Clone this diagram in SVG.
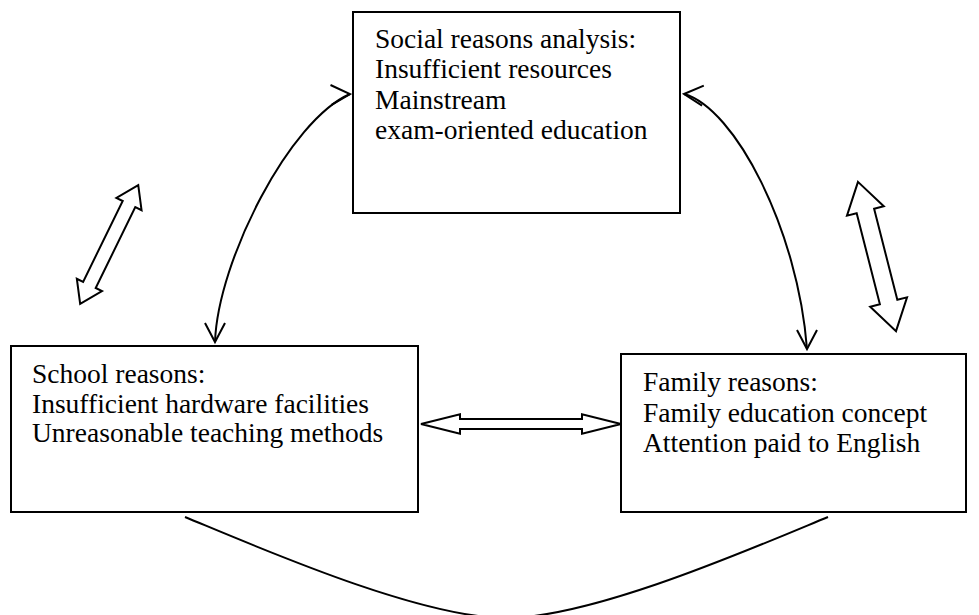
<svg xmlns="http://www.w3.org/2000/svg" xmlns:xlink="http://www.w3.org/1999/xlink" width="979" height="615" viewBox="0 0 979 615">
<style>
.box{fill:#fff;stroke:#000;stroke-width:2}
.t{font-family:"Liberation Serif","Times New Roman",serif;font-size:27.5px;fill:#000}
.line{fill:none;stroke:#000;stroke-width:2}
.head{fill:none;stroke:#000;stroke-width:2;stroke-linejoin:miter}
.harrow{fill:#fff;stroke:#000;stroke-width:2;stroke-linejoin:miter}
</style>
<defs>
<path id="vhead" class="head" d="M-19,-10 L0,0 L-19,10"/>
</defs>
<rect width="979" height="615" fill="#fff"/>
<g id="connectors">
<path class="line" d="M215,342 C218,260 290,120 350,94"/>
<use xlink:href="#vhead" transform="translate(350,94) rotate(-3)"/>
<use xlink:href="#vhead" transform="translate(215,342) rotate(90)"/>
<path class="line" d="M684,94 C735,108 798,230 807,349"/>
<use xlink:href="#vhead" transform="translate(684,94) rotate(185)"/>
<use xlink:href="#vhead" transform="translate(807,349) rotate(90)"/>
<path class="line" d="M185,517 C260,548 420,618 506,618 C593,618 753,548 828,517"/>
<polygon class="harrow" points="421,424 460,414.3 460,419 582,419 582,414.3 621,424 582,433.7 582,429 460,429 460,433.7"/>
<polygon class="harrow" transform="translate(109.2,244.5) rotate(-63.9)" points="-66,0 -45,-14 -45,-7 45,-7 45,-14 66,0 45,14 45,7 -45,7 -45,14"/>
<polygon class="harrow" transform="translate(877,256.5) rotate(75.7)" points="-77,0 -47,-19 -47,-9 47,-9 47,-19 77,0 47,19 47,9 -47,9 -47,19"/>
</g>
<g id="social">
<rect class="box" x="353" y="12" width="327" height="201"/>
<text class="t" x="375" y="48">Social reasons analysis:</text>
<text class="t" x="375" y="78">Insufficient resources</text>
<text class="t" x="375" y="109">Mainstream</text>
<text class="t" x="375" y="139">exam-oriented education</text>
</g>
<g id="school">
<rect class="box" x="11" y="346" width="407" height="166"/>
<text class="t" x="32" y="383">School reasons:</text>
<text class="t" x="32" y="413">Insufficient hardware facilities</text>
<text class="t" x="32" y="442">Unreasonable teaching methods</text>
</g>
<g id="family">
<rect class="box" x="621" y="354" width="345" height="158"/>
<text class="t" x="643" y="391">Family reasons:</text>
<text class="t" x="643" y="422">Family education concept</text>
<text class="t" x="643" y="452">Attention paid to English</text>
</g>
</svg>
